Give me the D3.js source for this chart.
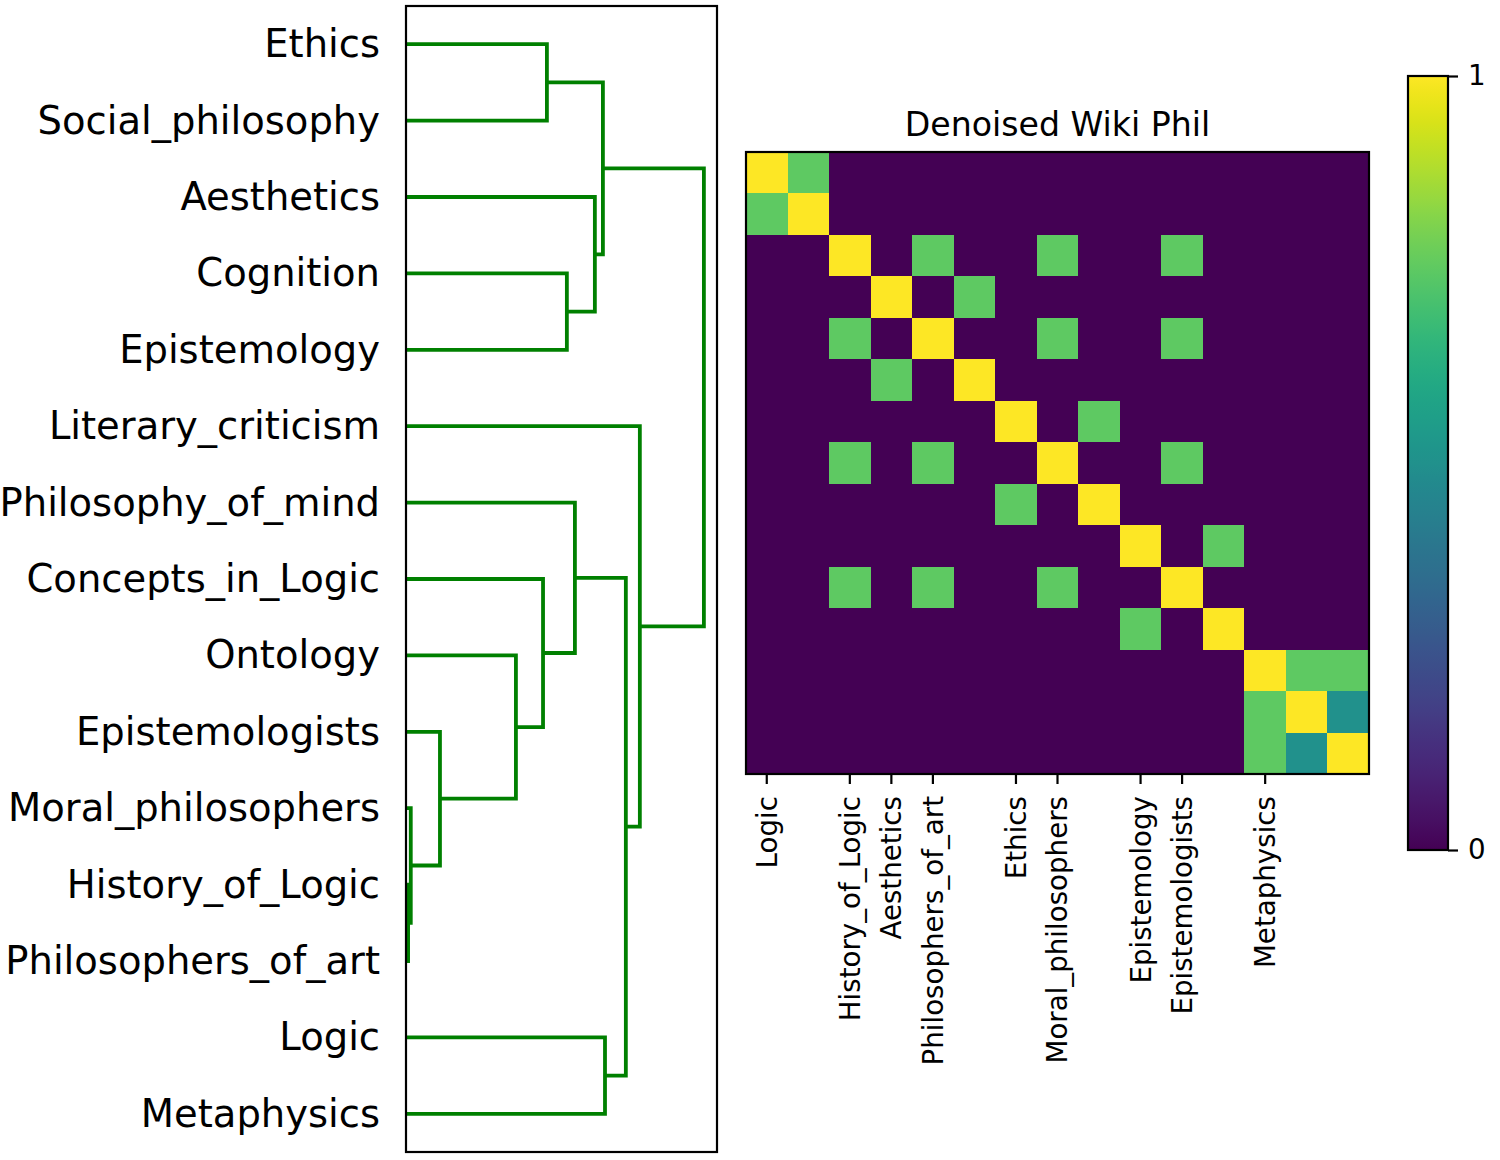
<!DOCTYPE html>
<html>
<head>
<meta charset="utf-8">
<script src="https://cdn.jsdelivr.net/npm/d3@7"></script>
<style>
body { margin: 0; background: #fff; }
text { font-family: "DejaVu Sans", sans-serif; fill: #000; }
.link { fill: none; stroke: #008000; stroke-width: 3.8px; }
</style>
</head>
<body>
<script>
// dendrogram leaves, top to bottom
var leafNames = ["Ethics", "Social_philosophy", "Aesthetics", "Cognition", "Epistemology",
    "Literary_criticism", "Philosophy_of_mind", "Concepts_in_Logic", "Ontology",
    "Epistemologists", "Moral_philosophers", "History_of_Logic", "Philosophers_of_art",
    "Logic", "Metaphysics"];

// linkage rows: [child a, child b, distance]  (new cluster ids start at 15)
var merges = [
    [11, 12, 0.007],
    [10, 15, 0.016],
    [9, 16, 0.114],
    [8, 17, 0.369],
    [7, 18, 0.460],
    [0, 1, 0.473],
    [3, 4, 0.540],
    [6, 19, 0.567],
    [2, 21, 0.634],
    [20, 23, 0.661],
    [13, 14, 0.668],
    [22, 25, 0.738],
    [5, 26, 0.785],
    [24, 27, 1.0]
];

// heatmap
var heatTitle = "Denoised Wiki Phil";
var tickIdx = [0, 2, 3, 4, 6, 7, 9, 10, 12];
var tickLabels = ["Logic", "History_of_Logic", "Aesthetics", "Philosophers_of_art",
    "Ethics", "Moral_philosophers", "Epistemology", "Epistemologists", "Metaphysics"];
var matrix = [
    [1, .75, 0, 0, 0, 0, 0, 0, 0, 0, 0, 0, 0, 0, 0],
    [.75, 1, 0, 0, 0, 0, 0, 0, 0, 0, 0, 0, 0, 0, 0],
    [0, 0, 1, 0, .75, 0, 0, .75, 0, 0, .75, 0, 0, 0, 0],
    [0, 0, 0, 1, 0, .75, 0, 0, 0, 0, 0, 0, 0, 0, 0],
    [0, 0, .75, 0, 1, 0, 0, .75, 0, 0, .75, 0, 0, 0, 0],
    [0, 0, 0, .75, 0, 1, 0, 0, 0, 0, 0, 0, 0, 0, 0],
    [0, 0, 0, 0, 0, 0, 1, 0, .75, 0, 0, 0, 0, 0, 0],
    [0, 0, .75, 0, .75, 0, 0, 1, 0, 0, .75, 0, 0, 0, 0],
    [0, 0, 0, 0, 0, 0, .75, 0, 1, 0, 0, 0, 0, 0, 0],
    [0, 0, 0, 0, 0, 0, 0, 0, 0, 1, 0, .75, 0, 0, 0],
    [0, 0, .75, 0, .75, 0, 0, .75, 0, 0, 1, 0, 0, 0, 0],
    [0, 0, 0, 0, 0, 0, 0, 0, 0, .75, 0, 1, 0, 0, 0],
    [0, 0, 0, 0, 0, 0, 0, 0, 0, 0, 0, 0, 1, .75, .75],
    [0, 0, 0, 0, 0, 0, 0, 0, 0, 0, 0, 0, .75, 1, .5],
    [0, 0, 0, 0, 0, 0, 0, 0, 0, 0, 0, 0, .75, .5, 1]
];
var cbTicks = [0, 1];

var W = 1500, H = 1160;
var svg = d3.select("body").append("svg").attr("width", W).attr("height", H);

// ---------- dendrogram ----------
var box = {x0: 406, x1: 717, y0: 6, y1: 1152};
var yLeaf = d3.scaleBand().domain(d3.range(leafNames.length)).range([box.y0, box.y1]);
var xDist = d3.scaleLinear().domain([0, d3.max(merges, d => d[2]) * 1.044]).range([box.x0, box.x1]);

// position of every node (leaf or cluster)
var nodes = leafNames.map((n, i) => ({y: yLeaf(i) + yLeaf.bandwidth() / 2, d: 0}));
merges.forEach(m => {
    var a = nodes[m[0]], b = nodes[m[1]];
    nodes.push({y: (a.y + b.y) / 2, d: m[2], a: a, b: b});
});

var dg = svg.append("g");
dg.selectAll(".link")
    .data(nodes.filter(n => n.a))
    .enter().append("path")
    .attr("class", "link")
    .attr("d", n => {
        var top = n.a.y < n.b.y ? n.a : n.b, bot = n.a.y < n.b.y ? n.b : n.a;
        return "M" + xDist(top.d) + "," + top.y +
            "H" + xDist(n.d) + "V" + bot.y + "H" + xDist(bot.d);
    });

dg.append("rect")
    .attr("x", box.x0).attr("y", box.y0)
    .attr("width", box.x1 - box.x0).attr("height", box.y1 - box.y0)
    .attr("fill", "none").attr("stroke", "#000").attr("stroke-width", 2.2);

dg.selectAll(".leaf")
    .data(leafNames)
    .enter().append("text")
    .attr("class", "leaf")
    .attr("x", 380)
    .attr("y", (d, i) => yLeaf(i) + yLeaf.bandwidth() / 2)
    .attr("dy", "0.34em")
    .attr("text-anchor", "end")
    .style("font-size", "38.5px")
    .text(d => d);

// ---------- heatmap ----------
var hm = {x0: 746, x1: 1369, y0: 152, y1: 774};
var n = matrix.length;
var xs = d3.scaleBand().domain(d3.range(n)).range([hm.x0, hm.x1]);
var ys = d3.scaleBand().domain(d3.range(n)).range([hm.y0, hm.y1]);
var color = d3.scaleSequential(d3.interpolateViridis).domain([0, 1]);

var cells = [];
matrix.forEach((row, r) => row.forEach((v, c) => cells.push({r: r, c: c, v: v})));

var hg = svg.append("g");
hg.selectAll(".cell")
    .data(cells)
    .enter().append("rect")
    .attr("class", "cell")
    .attr("x", d => xs(d.c))
    .attr("y", d => ys(d.r))
    .attr("width", d => xs.bandwidth() + (d.c < n - 1 ? 1 : 0))
    .attr("height", d => ys.bandwidth() + (d.r < n - 1 ? 1 : 0))
    .attr("shape-rendering", "crispEdges")
    .attr("fill", d => color(d.v));

hg.append("rect")
    .attr("x", hm.x0).attr("y", hm.y0)
    .attr("width", hm.x1 - hm.x0).attr("height", hm.y1 - hm.y0)
    .attr("fill", "none").attr("stroke", "#000").attr("stroke-width", 2.2);

var xAxis = hg.append("g")
    .attr("transform", "translate(0," + hm.y1 + ")")
    .call(d3.axisBottom(xs)
        .tickValues(tickIdx)
        .tickFormat((d, i) => tickLabels[i])
        .tickSize(10)
        .tickPadding(12));
xAxis.select(".domain").remove();
xAxis.selectAll(".tick line").attr("stroke", "#000").attr("stroke-width", 2.2);
xAxis.selectAll(".tick text")
    .attr("transform", "rotate(-90)")
    .attr("x", -22).attr("y", 0).attr("dy", "0.36em")
    .style("text-anchor", "end")
    .style("font-size", "27.7px")
    .style("font-family", "'DejaVu Sans', sans-serif");

hg.append("text")
    .attr("x", (hm.x0 + hm.x1) / 2)
    .attr("y", 136)
    .attr("text-anchor", "middle")
    .style("font-size", "33.2px")
    .text(heatTitle);

// ---------- colorbar ----------
var cb = {x0: 1408, x1: 1448, y0: 76, y1: 850};
var grad = svg.append("defs").append("linearGradient")
    .attr("id", "viridis").attr("x1", "0").attr("y1", "1").attr("x2", "0").attr("y2", "0");
grad.selectAll("stop")
    .data(d3.range(0, 1.0001, 0.02))
    .enter().append("stop")
    .attr("offset", d => d)
    .attr("stop-color", d => color(d));

svg.append("rect")
    .attr("x", cb.x0).attr("y", cb.y0)
    .attr("width", cb.x1 - cb.x0).attr("height", cb.y1 - cb.y0)
    .attr("fill", "url(#viridis)")
    .attr("stroke", "#000").attr("stroke-width", 2.2);

var cbScale = d3.scaleLinear().domain([0, 1]).range([cb.y1, cb.y0]);
var cbAxis = svg.append("g")
    .attr("transform", "translate(" + cb.x1 + ",0)")
    .call(d3.axisRight(cbScale).tickValues(cbTicks).tickFormat(d3.format("d"))
        .tickSize(10).tickPadding(10));
cbAxis.select(".domain").remove();
cbAxis.selectAll(".tick line").attr("stroke", "#000").attr("stroke-width", 2.2);
cbAxis.selectAll(".tick text")
    .style("font-size", "27.7px")
    .style("font-family", "'DejaVu Sans', sans-serif");
</script>
</body>
</html>
